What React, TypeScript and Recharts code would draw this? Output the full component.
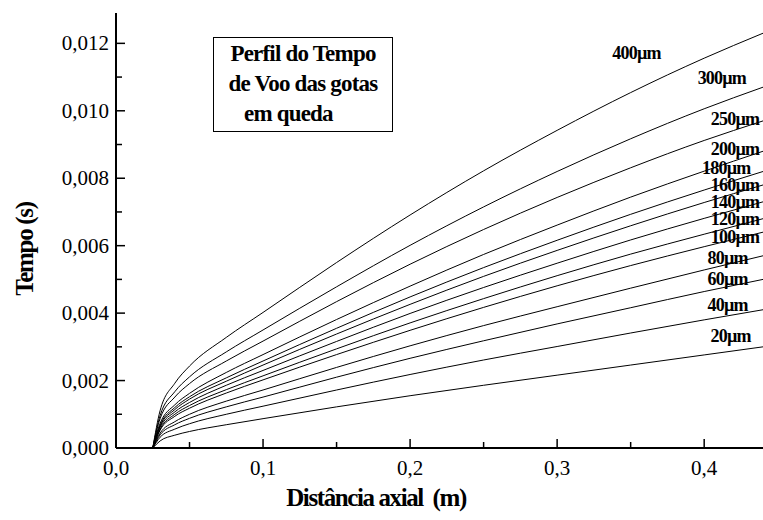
import React from 'react';
import { LineChart, Line, XAxis, YAxis, ReferenceDot } from 'recharts';

// axial distance (m)
const DIST = [0.025, 0.03, 0.04, 0.05, 0.075, 0.1, 0.15, 0.2, 0.25, 0.3, 0.35, 0.4, 0.44];

// flight time (s) per droplet diameter
const T400 = [0, 0.00111, 0.00192, 0.00243, 0.00328, 0.00402, 0.0055, 0.00691, 0.00822, 0.00942, 0.01054, 0.01156, 0.0123];
const T300 = [0, 0.00096, 0.00167, 0.00211, 0.00285, 0.0035, 0.00478, 0.00601, 0.00715, 0.0082, 0.00917, 0.01006, 0.0107];
const T250 = [0, 0.00087, 0.00151, 0.00191, 0.00258, 0.00317, 0.00434, 0.00545, 0.00648, 0.00743, 0.00831, 0.00912, 0.0097];
const T200 = [0, 0.00073, 0.00128, 0.00162, 0.00224, 0.00277, 0.00381, 0.0048, 0.00574, 0.00661, 0.00744, 0.00821, 0.0088];
const T180 = [0, 0.00068, 0.0012, 0.00152, 0.00208, 0.00258, 0.00355, 0.00448, 0.00535, 0.00616, 0.00693, 0.00765, 0.0082];
const T160 = [0, 0.00065, 0.00114, 0.00145, 0.00198, 0.00246, 0.00338, 0.00426, 0.00509, 0.00586, 0.00659, 0.00728, 0.0078];
const T140 = [0, 0.00061, 0.00107, 0.00135, 0.00186, 0.0023, 0.00316, 0.00399, 0.00476, 0.00548, 0.00617, 0.00681, 0.0073];
const T120 = [0, 0.00056, 0.001, 0.00126, 0.00173, 0.00214, 0.00294, 0.00371, 0.00443, 0.00511, 0.00575, 0.00634, 0.0068];
const T100 = [0, 0.00053, 0.00094, 0.00118, 0.00163, 0.00202, 0.00277, 0.00349, 0.00417, 0.00481, 0.00541, 0.00597, 0.0064];
const T80 = [0, 0.00044, 0.00078, 0.001, 0.00139, 0.00172, 0.00239, 0.00303, 0.00363, 0.00419, 0.00474, 0.00528, 0.0057];
const T60 = [0, 0.00039, 0.00069, 0.00088, 0.00122, 0.00151, 0.0021, 0.00266, 0.00318, 0.00368, 0.00416, 0.00464, 0.005];
const T40 = [0, 0.00032, 0.00056, 0.00072, 0.001, 0.00124, 0.00172, 0.00218, 0.00261, 0.00301, 0.00341, 0.0038, 0.0041];
const T20 = [0, 0.00021, 0.00038, 0.00049, 0.00069, 0.00087, 0.00122, 0.00155, 0.00186, 0.00216, 0.00246, 0.00276, 0.003];

const SIZES = ['400µm', '300µm', '250µm', '200µm', '180µm', '160µm', '140µm', '120µm', '100µm', '80µm', '60µm', '40µm', '20µm'];
const SERIES = [T400, T300, T250, T200, T180, T160, T140, T120, T100, T80, T60, T40, T20];

// where each size label sits (data coords)
const LABEL_AT = [
  [0.354, 0.01167], [0.412, 0.01093], [0.421, 0.00974], [0.421, 0.00885], [0.415, 0.00826],
  [0.421, 0.00778], [0.421, 0.00728], [0.421, 0.00677], [0.421, 0.00624], [0.416, 0.00561],
  [0.416, 0.00499], [0.416, 0.00422], [0.418, 0.0033],
];

const X_TICKS = [0, 0.05, 0.1, 0.15, 0.2, 0.25, 0.3, 0.35, 0.4];
const Y_TICKS = [0, 0.001, 0.002, 0.003, 0.004, 0.005, 0.006, 0.007, 0.008, 0.009, 0.01, 0.011, 0.012];

const data = DIST.map((d, i) => {
  const row: any = { d };
  SERIES.forEach((s, k) => { row['s' + k] = s[i]; });
  return row;
});

const FONT = '"Liberation Serif", "Times New Roman", serif';
const fmt = (v: number, n: number) => v.toFixed(n).replace('.', ',');
const isMajor = (v: number, step: number) => Math.abs(v / step - Math.round(v / step)) < 1e-6;

function XTick({ x, y, payload }: any) {
  const major = isMajor(payload.value, 0.1);
  return (
    <g>
      <line x1={x} x2={x} y1={y} y2={y - (major ? 9 : 6)} stroke="#000" strokeWidth={1.5} />
      {major && (
        <text x={x} y={y + 27} textAnchor="middle" fontSize={21} fontFamily={FONT} fill="#000">
          {fmt(payload.value, 1)}
        </text>
      )}
    </g>
  );
}

function YTick({ x, y, payload }: any) {
  const major = isMajor(payload.value, 0.002);
  return (
    <g>
      <line x1={x} x2={x + (major ? 9 : 6)} y1={y} y2={y} stroke="#000" strokeWidth={1.5} />
      {major && (
        <text x={x - 7} y={y + 7} textAnchor="end" fontSize={21} fontFamily={FONT} fill="#000">
          {fmt(payload.value, 3)}
        </text>
      )}
    </g>
  );
}

export default function App() {
  return (
    <div style={{ position: 'absolute', left: 0, top: 0, width: 763, height: 520, background: '#fff' }}>
      <LineChart width={763} height={520} data={data} margin={{ top: 13, right: 0, bottom: 0, left: 0 }}>
        <XAxis
          dataKey="d"
          type="number"
          domain={[0, 0.44]}
          ticks={X_TICKS}
          allowDataOverflow
          height={72}
          tickSize={0}
          tickMargin={0}
          tickLine={false}
          axisLine={{ stroke: '#000', strokeWidth: 2 }}
          tick={<XTick />}
          label={{
            content: () => (
              <text x={376} y={506} textAnchor="middle" fontSize={25} fontWeight="bold" letterSpacing={-1.4} fontFamily={FONT} fill="#000">
                {'Distância axial\u00a0\u00a0(m)'}
              </text>
            ),
          }}
        />
        <YAxis
          type="number"
          domain={[0, 0.0129]}
          ticks={Y_TICKS}
          allowDataOverflow
          width={116}
          tickSize={0}
          tickMargin={0}
          tickLine={false}
          axisLine={{ stroke: '#000', strokeWidth: 2 }}
          tick={<YTick />}
          label={{
            content: () => (
              <text x={33} y={249} transform="rotate(-90 33 249)" textAnchor="middle" fontSize={25} fontWeight="bold" letterSpacing={-1.3} fontFamily={FONT} fill="#000">
                Tempo (s)
              </text>
            ),
          }}
        />
        {SERIES.map((_, k) => (
          <Line key={k} dataKey={'s' + k} type="monotone" stroke="#000" strokeWidth={1} dot={false} isAnimationActive={false} />
        ))}
        {SIZES.map((name, k) => (
          <ReferenceDot
            key={name}
            x={LABEL_AT[k][0]}
            y={LABEL_AT[k][1]}
            ifOverflow="visible"
            shape={(p: any) => (
              <text x={p.cx} y={p.cy + 5} textAnchor="middle" fontSize={18} fontWeight="bold" letterSpacing={-0.8} fontFamily={FONT} fill="#000">
                {name}
              </text>
            )}
          />
        ))}
      </LineChart>
      <div
        style={{
          position: 'absolute', left: 213, top: 37, width: 178, height: 93, border: '1px solid #000',
          background: '#fff', fontFamily: FONT, fontWeight: 'bold', fontSize: 23, letterSpacing: -0.8,
          lineHeight: '30px', color: '#000', boxSizing: 'content-box', whiteSpace: 'nowrap',
        }}
      >
        <div style={{ textAlign: 'center', marginTop: 1 }}>Perfil do Tempo</div>
        <div style={{ textAlign: 'center' }}>de Voo das gotas</div>
        <div style={{ paddingLeft: 30 }}>em queda</div>
      </div>
    </div>
  );
}
